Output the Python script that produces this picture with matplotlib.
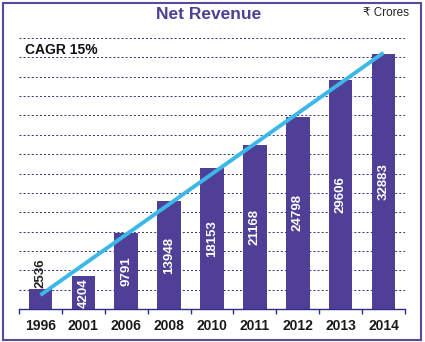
import numpy as np
import matplotlib.pyplot as plt
from matplotlib.patches import Rectangle

# net revenue by year, in crores
years = ['1996', '2001', '2006', '2008', '2010', '2011', '2012', '2013', '2014']
revenue = [2536, 4204, 9791, 13948, 18153, 21168, 24798, 29606, 32883]
trend_start = 1800
trend_end = 33100

purple = '#4f3f96'
navy = '#2e2e8a'
cyan = '#3cb8e8'

plt.rcParams['font.family'] = ['Liberation Sans', 'DejaVu Sans']

fig = plt.figure(figsize=(4.25, 3.42), dpi=100)
ax = fig.add_axes([19/425, 33/342, 386/425, 271/342])

x = np.arange(len(years))
ax.bar(x, revenue, width=0.55, color=purple, zorder=2)

# straight growth line from first to last bar
ax.plot([x[0], x[-1]], [trend_start, trend_end], color=cyan, lw=2.8,
        solid_capstyle='butt', zorder=3)

# value labels: inside the bar when it fits, above it otherwise
for xi, v in zip(x, revenue):
    if v < 4000:
        ax.text(xi, v + 150, str(v), rotation=90, ha='center', va='bottom',
                fontsize=9.5, fontweight='bold', color='#222222', zorder=4)
    else:
        ax.text(xi, v / 2, str(v), rotation=90, ha='center', va='center',
                fontsize=9.5, fontweight='bold', color='white', zorder=4)

ax.set_xlim(-0.5, len(years) - 0.5)
ax.set_ylim(0, 35000)
ax.set_yticks(np.arange(2500, 35001, 2500))
ax.yaxis.grid(True, color=navy, lw=0.7, ls=(0, (2, 2.2)), zorder=1)
ax.tick_params(axis='y', left=False, labelleft=False)

ax.set_xticks(x)
ax.set_xticklabels(years, fontsize=10, fontweight='bold', color='#1a1a1a')
ax.set_xticks(np.arange(-0.5, len(years)), minor=True)
ax.tick_params(axis='x', which='major', length=0, pad=7)
ax.tick_params(axis='x', which='minor', length=3.5, color=navy, width=1)

for side in ['top', 'right', 'left']:
    ax.spines[side].set_visible(False)
ax.spines['bottom'].set_color(navy)
ax.spines['bottom'].set_linewidth(1)

fig.text(209/425, 1 - 14.5/342, 'Net Revenue', ha='center', va='center',
         fontsize=12.5, fontweight='bold', color=purple)
fig.text(409/425, 1 - 13/342, '₹ Crores', ha='right', va='center',
         fontsize=8.5, color='#222222')
fig.text(25/425, 1 - 50/342, 'CAGR 15%', ha='left', va='center',
         fontsize=10, fontweight='bold', color='#111111')

# frame around the whole figure
fig.patches.append(Rectangle((2.5/425, 2/342), 418/425, 337/342,
                             transform=fig.transFigure, fill=False,
                             edgecolor='#5a4a9e', lw=1.5))

fig.savefig('out.png', dpi=100)
